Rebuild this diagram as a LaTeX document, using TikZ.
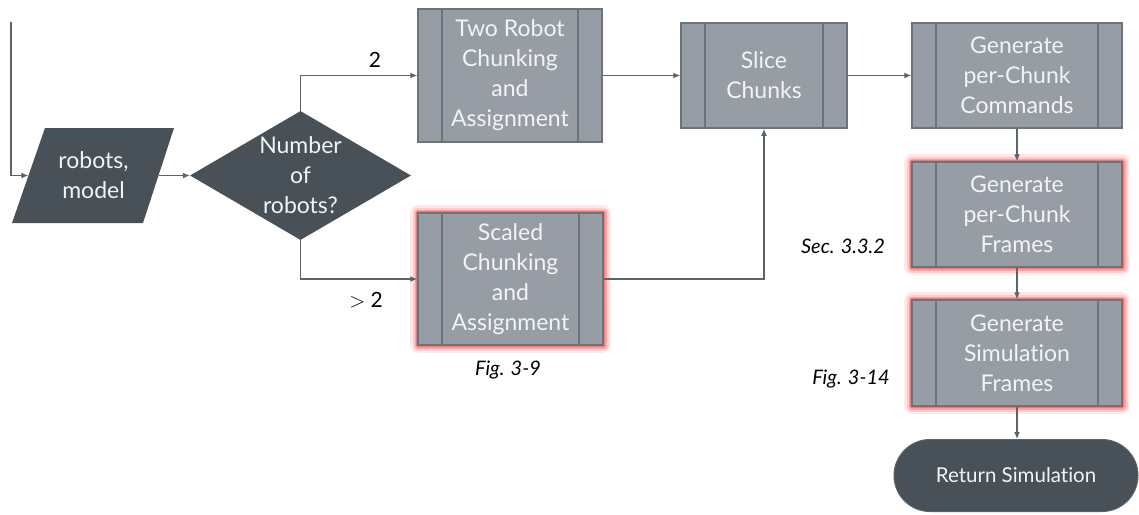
\documentclass[tikz,border=0pt]{standalone}
\usepackage{fontspec}
\setmainfont{Lato}[Ligatures={NoCommon,NoRare}]
\usetikzlibrary{shapes.geometric,arrows.meta}
\definecolor{boxfill}{HTML}{969DA5}
\definecolor{boxline}{HTML}{6B747B}
\definecolor{darkfill}{HTML}{475157}
\definecolor{conn}{HTML}{5A646B}
\definecolor{glowc}{HTML}{FF5050}
\definecolor{txt}{HTML}{F4F4F4}
\tikzset{
  proc/.style={draw=boxline, line width=1.5pt, fill=boxfill, rectangle, inner sep=0pt,
    text=txt, align=center, font=\fontsize{23}{30}\selectfont,
    path picture={
      \draw[boxline, line width=1.5pt]
        ([xshift=24pt]path picture bounding box.north west) -- ([xshift=24pt]path picture bounding box.south west)
        ([xshift=-24pt]path picture bounding box.north east) -- ([xshift=-24pt]path picture bounding box.south east);
    }},
  glow/.style={
    preaction={draw=glowc, draw opacity=0.12, line width=16pt, line join=round},
    preaction={draw=glowc, draw opacity=0.2, line width=11pt, line join=round},
    preaction={draw=glowc, draw opacity=0.35, line width=7pt, line join=round},
    preaction={draw=glowc, draw opacity=0.6, line width=4pt, line join=round}},
  dark/.style={fill=darkfill, text=txt, align=center, inner sep=0pt, font=\fontsize{23}{30}\selectfont},
  conn/.style={draw=conn, line width=1.2pt, -{Latex[length=7pt,width=6pt]}},
  lab/.style={font=\fontsize{21}{24}\selectfont, text=black},
  ilab/.style={font=\fontsize{20}{24}\selectfont\itshape, text=black},
}
\begin{document}
\begin{tikzpicture}[x=1pt,y=-1pt]
\useasboundingbox (0,0) rectangle (1139,514);
% input parallelogram
\fill[darkfill] (45,128) -- (174,128) -- (143,223) -- (12,223) -- cycle;
\node[dark, fill=none, minimum width=130pt, minimum height=95pt] (in) at (93.5,175.5) {robots,\\model};
\coordinate (s) at (11,22);
% decision
\node[dark, diamond, aspect=1.713, minimum width=221pt, minimum height=129pt] (dec) at (300.5,175.5) {Number\\of\\robots?};
% process boxes
\node[proc, minimum width=184pt, minimum height=133pt] (two) at (510,75.5) {Two Robot\\Chunking\\and\\Assignment};
\node[proc, glow, minimum width=185pt, minimum height=132pt] (scaled) at (510.5,279) {Scaled\\Chunking\\and\\Assignment};
\node[proc, minimum width=166pt, minimum height=105pt] (slice) at (764,75.5) {Slice\\Chunks};
\node[proc, minimum width=210pt, minimum height=105pt] (cmd) at (1017,75.5) {Generate\\per-Chunk\\Commands};
\node[proc, glow, minimum width=210pt, minimum height=105pt] (frames) at (1017,214.5) {Generate\\per-Chunk\\Frames};
\node[proc, glow, minimum width=210pt, minimum height=106pt] (sim) at (1017,353) {Generate\\Simulation\\Frames};
\node[dark, draw=conn, line width=1pt, rounded corners=36pt, minimum width=244pt, minimum height=72pt, font=\fontsize{20.5}{24}\selectfont] (ret) at (1016,475.5) {Return Simulation};
% connectors
\draw[conn] (s) |- (in.west);
\draw[conn] (in.east) -- (dec.west);
\draw[conn] (dec.north) |- (two.west);
\draw[conn] (dec.south) |- (scaled.west);
\draw[conn] (two.east) -- (slice.west);
\draw[conn] (scaled.east) -| (slice.south);
\draw[conn] (slice.east) -- (cmd.west);
\draw[conn] (cmd.south) -- (frames.north);
\draw[conn] (frames.south) -- (sim.north);
\draw[conn] (sim.south) -- (sim.south |- ret.north);
% labels
\node[lab] (l2) at (375,60) {2};
\node[lab] (lg2) at (366,300) {$>$ 2};
\node[ilab] (f39) at (508,370) {Fig. 3-9};
\node[ilab] (s332) at (843,246) {Sec. 3.3.2};
\node[ilab] (f314) at (851,379) {Fig. 3-14};
\end{tikzpicture}
\end{document}
